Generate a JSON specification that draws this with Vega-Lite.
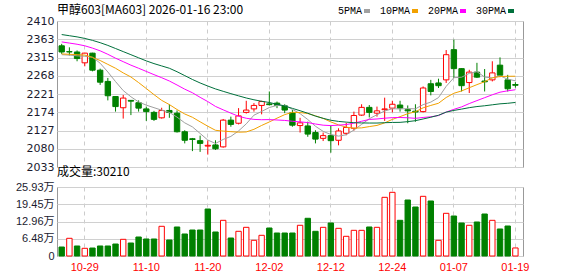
{
  "$schema": "https://vega.github.io/schema/vega-lite/v6.json",
  "autosize": {"type": "pad"},
  "padding": {"left": 14, "top": 3, "right": 0, "bottom": 0},
  "background": "white",
  "bounds": "flush",
  "spacing": 20,
  "config": {
    "view": {"stroke": "#999999", "strokeWidth": 1},
    "axis": {"grid": true, "gridColor": "#d0d0d0", "ticks": false, "domain": false, "labelFont": "DejaVu Sans", "labelFontSize": 11, "labelColor": "#1b1b2f", "title": null, "labelPadding": 3, "labelOverlap": false, "labelBound": false}
  },
  "data": {"values": [
    {"d":"10-24","o":2346,"h":2351,"l":2325,"c":2330,"v":33800,"chg":"down","5PMA":2323,"10PMA":2325,"20PMA":2356,"30PMA":2375},
    {"d":"10-27","o":2331,"h":2342,"l":2321,"c":2330,"v":66500,"chg":"up","5PMA":2322,"10PMA":2324,"20PMA":2353,"30PMA":2372},
    {"d":"10-28","o":2330,"h":2334,"l":2306,"c":2313,"v":37600,"chg":"down","5PMA":2320,"10PMA":2323,"20PMA":2350,"30PMA":2369},
    {"d":"10-29","o":2302,"h":2328,"l":2293,"c":2327,"v":28900,"chg":"up","5PMA":2319,"10PMA":2322,"20PMA":2346,"30PMA":2365},
    {"d":"10-30","o":2327,"h":2328,"l":2280,"c":2283,"v":30000,"chg":"down","5PMA":2316.6,"10PMA":2316,"20PMA":2340,"30PMA":2360},
    {"d":"10-31","o":2283,"h":2287,"l":2245,"c":2252,"v":37600,"chg":"down","5PMA":2301,"10PMA":2308,"20PMA":2333,"30PMA":2354},
    {"d":"11-03","o":2254,"h":2263,"l":2205,"c":2217,"v":37600,"chg":"down","5PMA":2278.4,"10PMA":2298,"20PMA":2324,"30PMA":2347},
    {"d":"11-04","o":2215,"h":2216,"l":2176,"c":2189,"v":45000,"chg":"down","5PMA":2253.6,"10PMA":2288,"20PMA":2314,"30PMA":2339},
    {"d":"11-05","o":2186,"h":2219,"l":2158,"c":2211,"v":62700,"chg":"up","5PMA":2230.4,"10PMA":2276,"20PMA":2305,"30PMA":2331},
    {"d":"11-06","o":2205,"h":2206,"l":2167,"c":2203,"v":48800,"chg":"down","5PMA":2214.4,"10PMA":2265.5,"20PMA":2296,"30PMA":2323},
    {"d":"11-07","o":2199,"h":2205,"l":2176,"c":2185,"v":71400,"chg":"down","5PMA":2201,"10PMA":2251,"20PMA":2288,"30PMA":2315},
    {"d":"11-10","o":2183,"h":2189,"l":2152,"c":2176,"v":63900,"chg":"down","5PMA":2192.8,"10PMA":2235.6,"20PMA":2279.8,"30PMA":2307},
    {"d":"11-11","o":2174,"h":2178,"l":2152,"c":2156,"v":63900,"chg":"down","5PMA":2186.2,"10PMA":2219.9,"20PMA":2271.5,"30PMA":2300},
    {"d":"11-12","o":2160,"h":2186,"l":2158,"c":2179,"v":111600,"chg":"up","5PMA":2179.8,"10PMA":2205.1,"20PMA":2263.6,"30PMA":2294},
    {"d":"11-13","o":2179,"h":2195,"l":2160,"c":2174,"v":60100,"chg":"down","5PMA":2174,"10PMA":2194.2,"20PMA":2255.1,"30PMA":2288},
    {"d":"11-14","o":2172,"h":2179,"l":2122,"c":2124,"v":109000,"chg":"down","5PMA":2161.8,"10PMA":2181.4,"20PMA":2244.7,"30PMA":2279},
    {"d":"11-17","o":2124,"h":2128,"l":2094,"c":2102,"v":82700,"chg":"down","5PMA":2147,"10PMA":2169.9,"20PMA":2234,"30PMA":2269},
    {"d":"11-18","o":2106,"h":2108,"l":2074,"c":2104,"v":97700,"chg":"down","5PMA":2136.6,"10PMA":2161.4,"20PMA":2224.7,"30PMA":2259},
    {"d":"11-19","o":2101,"h":2114,"l":2072,"c":2094,"v":97700,"chg":"down","5PMA":2119.6,"10PMA":2149.7,"20PMA":2212.9,"30PMA":2250},
    {"d":"11-20","o":2087,"h":2102,"l":2065,"c":2089,"v":176600,"chg":"down","5PMA":2102.6,"10PMA":2138.3,"20PMA":2201.9,"30PMA":2242},
    {"d":"11-21","o":2090,"h":2102,"l":2077,"c":2080,"v":90200,"chg":"down","5PMA":2093.8,"10PMA":2127.8,"20PMA":2189.4,"30PMA":2234.6},
    {"d":"11-24","o":2085,"h":2157,"l":2083,"c":2154,"v":134100,"chg":"up","5PMA":2104.2,"10PMA":2125.6,"20PMA":2180.6,"30PMA":2228.4},
    {"d":"11-25","o":2154,"h":2163,"l":2137,"c":2143,"v":67600,"chg":"down","5PMA":2112,"10PMA":2124.3,"20PMA":2172.1,"30PMA":2222.4},
    {"d":"11-26","o":2146,"h":2185,"l":2143,"c":2165,"v":92800,"chg":"up","5PMA":2126.2,"10PMA":2122.9,"20PMA":2164,"30PMA":2216.7},
    {"d":"11-27","o":2174,"h":2204,"l":2171,"c":2180,"v":107800,"chg":"up","5PMA":2144.4,"10PMA":2123.5,"20PMA":2158.9,"30PMA":2211.2},
    {"d":"11-28","o":2183,"h":2198,"l":2176,"c":2192,"v":59000,"chg":"up","5PMA":2166.8,"10PMA":2130.3,"20PMA":2155.9,"30PMA":2206.6},
    {"d":"12-01","o":2192,"h":2204,"l":2169,"c":2202,"v":77800,"chg":"up","5PMA":2176.4,"10PMA":2140.3,"20PMA":2155.1,"30PMA":2202.7},
    {"d":"12-02","o":2196,"h":2228,"l":2192,"c":2194,"v":105200,"chg":"down","5PMA":2186.6,"10PMA":2149.3,"20PMA":2155.4,"30PMA":2199.6},
    {"d":"12-03","o":2198,"h":2202,"l":2185,"c":2192,"v":86400,"chg":"down","5PMA":2192,"10PMA":2159.1,"20PMA":2154.4,"30PMA":2194.9},
    {"d":"12-04","o":2191,"h":2195,"l":2172,"c":2180,"v":86400,"chg":"down","5PMA":2192,"10PMA":2168.2,"20PMA":2153.3,"30PMA":2190.7},
    {"d":"12-05","o":2173,"h":2180,"l":2137,"c":2141,"v":86400,"chg":"down","5PMA":2181.8,"10PMA":2174.3,"20PMA":2151.1,"30PMA":2184.4},
    {"d":"12-08","o":2140,"h":2160,"l":2122,"c":2147,"v":115400,"chg":"up","5PMA":2170.8,"10PMA":2173.6,"20PMA":2149.6,"30PMA":2178.3},
    {"d":"12-09","o":2139,"h":2150,"l":2111,"c":2118,"v":141700,"chg":"down","5PMA":2155.6,"10PMA":2171.1,"20PMA":2147.7,"30PMA":2171.8},
    {"d":"12-10","o":2122,"h":2128,"l":2094,"c":2105,"v":92800,"chg":"down","5PMA":2138.2,"10PMA":2165.1,"20PMA":2144,"30PMA":2164.4},
    {"d":"12-11","o":2107,"h":2122,"l":2100,"c":2114,"v":107800,"chg":"up","5PMA":2125,"10PMA":2158.5,"20PMA":2141,"30PMA":2158.7},
    {"d":"12-12","o":2114,"h":2140,"l":2070,"c":2101,"v":124000,"chg":"down","5PMA":2117,"10PMA":2149.4,"20PMA":2139.9,"30PMA":2153.7},
    {"d":"12-15","o":2102,"h":2133,"l":2089,"c":2126,"v":104000,"chg":"up","5PMA":2112.8,"10PMA":2141.8,"20PMA":2141.1,"30PMA":2150.7},
    {"d":"12-16","o":2120,"h":2147,"l":2115,"c":2135,"v":74000,"chg":"up","5PMA":2116.2,"10PMA":2135.9,"20PMA":2142.6,"30PMA":2148.9},
    {"d":"12-17","o":2133,"h":2176,"l":2127,"c":2166,"v":96500,"chg":"up","5PMA":2128.4,"10PMA":2133.3,"20PMA":2146.2,"30PMA":2147.4},
    {"d":"12-18","o":2167,"h":2195,"l":2165,"c":2187,"v":96500,"chg":"up","5PMA":2143,"10PMA":2134,"20PMA":2151.1,"30PMA":2146.8},
    {"d":"12-19","o":2187,"h":2193,"l":2161,"c":2174,"v":109000,"chg":"down","5PMA":2157.6,"10PMA":2137.3,"20PMA":2155.8,"30PMA":2146.5},
    {"d":"12-22","o":2172,"h":2189,"l":2163,"c":2178,"v":107800,"chg":"up","5PMA":2168,"10PMA":2140.4,"20PMA":2157,"30PMA":2146.5},
    {"d":"12-23","o":2181,"h":2212,"l":2152,"c":2183,"v":220500,"chg":"up","5PMA":2177.6,"10PMA":2146.9,"20PMA":2159,"30PMA":2147.4},
    {"d":"12-24","o":2185,"h":2204,"l":2174,"c":2195,"v":239300,"chg":"up","5PMA":2183.4,"10PMA":2155.9,"20PMA":2160.5,"30PMA":2148},
    {"d":"12-25","o":2193,"h":2204,"l":2176,"c":2185,"v":134100,"chg":"down","5PMA":2183,"10PMA":2163,"20PMA":2160.8,"30PMA":2148.3},
    {"d":"12-26","o":2181,"h":2192,"l":2146,"c":2178,"v":210400,"chg":"down","5PMA":2183.8,"10PMA":2170.7,"20PMA":2160.1,"30PMA":2150.1},
    {"d":"12-29","o":2177,"h":2195,"l":2150,"c":2175,"v":184100,"chg":"down","5PMA":2183.2,"10PMA":2175.6,"20PMA":2158.7,"30PMA":2152.6},
    {"d":"12-30","o":2176,"h":2241,"l":2174,"c":2237,"v":224300,"chg":"up","5PMA":2194,"10PMA":2185.8,"20PMA":2160.9,"30PMA":2157},
    {"d":"12-31","o":2248,"h":2258,"l":2218,"c":2228,"v":206700,"chg":"down","5PMA":2200.6,"10PMA":2192,"20PMA":2162.7,"30PMA":2161.5},
    {"d":"01-05","o":2250,"h":2261,"l":2237,"c":2243,"v":59000,"chg":"up","5PMA":2212.2,"10PMA":2197.6,"20PMA":2165.8,"30PMA":2166.6},
    {"d":"01-06","o":2258,"h":2335,"l":2250,"c":2323,"v":160400,"chg":"up","5PMA":2241.2,"10PMA":2212.5,"20PMA":2174.9,"30PMA":2174.7},
    {"d":"01-07","o":2336,"h":2362,"l":2263,"c":2287,"v":150300,"chg":"down","5PMA":2263.6,"10PMA":2223.4,"20PMA":2181.9,"30PMA":2179.1},
    {"d":"01-08","o":2287,"h":2288,"l":2228,"c":2243,"v":124000,"chg":"down","5PMA":2264.8,"10PMA":2229.4,"20PMA":2188.2,"30PMA":2182.5},
    {"d":"01-09","o":2251,"h":2284,"l":2224,"c":2278,"v":115400,"chg":"up","5PMA":2274.8,"10PMA":2237.7,"20PMA":2196.8,"30PMA":2186.2},
    {"d":"01-12","o":2278,"h":2302,"l":2263,"c":2265,"v":127800,"chg":"down","5PMA":2279.2,"10PMA":2245.7,"20PMA":2204.4,"30PMA":2189.1},
    {"d":"01-13","o":2255,"h":2286,"l":2228,"c":2253,"v":157800,"chg":"down","5PMA":2265.2,"10PMA":2253.2,"20PMA":2212,"30PMA":2191.1},
    {"d":"01-14","o":2258,"h":2306,"l":2254,"c":2276,"v":134100,"chg":"up","5PMA":2263,"10PMA":2263.3,"20PMA":2219.5,"30PMA":2193.6},
    {"d":"01-15","o":2296,"h":2316,"l":2265,"c":2270,"v":101500,"chg":"down","5PMA":2268.4,"10PMA":2266.6,"20PMA":2226.2,"30PMA":2196.1},
    {"d":"01-16","o":2258,"h":2271,"l":2228,"c":2235,"v":112700,"chg":"down","5PMA":2259.8,"10PMA":2267.3,"20PMA":2229.7,"30PMA":2197.5},
    {"d":"01-19","o":2246,"h":2252,"l":2238,"c":2244,"v":30210,"chg":"up","5PMA":2255.6,"10PMA":2267.4,"20PMA":2232.5,"30PMA":2199.7}
  ]},
  "vconcat": [
    {
      "width": 466,
      "height": 146,
      "title": {"text": "甲醇603[MA603] 2026-01-16 23:00", "anchor": "start", "frame": "group", "font": "Noto Sans CJK SC", "fontSize": 12, "fontWeight": "normal", "color": "#000000", "offset": -2},
      "encoding": {
        "x": {"field": "d", "type": "ordinal", "sort": null,
          "scale": {"paddingInner": 0.3, "paddingOuter": 0.45, "align": 0.29},
          "axis": {"values": ["10-29","11-10","11-20","12-02","12-12","12-24","01-07","01-19"], "labels": false, "gridDash": [4,4], "gridColor": "#cccccc", "bandPosition": 0.5}}
      },
      "layer": [
        {
          "mark": {"type": "rule", "strokeWidth": 1},
          "encoding": {
            "y": {"field": "l", "type": "quantitative", "scale": {"domain": [2033, 2410], "zero": false, "nice": false},
              "axis": {"values": [2033,2080,2127,2174,2221,2268,2315,2363,2410], "format": "d", "labelOverlap": false}},
            "y2": {"field": "h"},
            "stroke": {"condition": {"test": "datum.c >= datum.o", "value": "#ff0000"}, "value": "#008000"}
          }
        },
        {
          "mark": {"type": "bar", "strokeWidth": 1},
          "encoding": {
            "y": {"field": "o", "type": "quantitative",
              "axis": {"values": [2033,2080,2127,2174,2221,2268,2315,2363,2410], "format": "d", "labelOverlap": false}},
            "y2": {"field": "c"},
            "fill": {"condition": {"test": "datum.c >= datum.o", "value": "#ffffff"}, "value": "#008000"},
            "stroke": {"condition": {"test": "datum.c >= datum.o", "value": "#ff0000"}, "value": "#008000"}
          }
        },
        {
          "transform": [{"fold": ["5PMA","10PMA","20PMA","30PMA"], "as": ["k","val"]}],
          "mark": {"type": "line", "strokeWidth": 1},
          "encoding": {
            "y": {"field": "val", "type": "quantitative",
              "axis": {"values": [2033,2080,2127,2174,2221,2268,2315,2363,2410], "format": "d", "labelOverlap": false}},
            "color": {"field": "k", "type": "nominal",
              "scale": {"domain": ["5PMA","10PMA","20PMA","30PMA"], "range": ["#a0a0a0","#f2a100","#ff00ff","#00703c"]},
              "legend": {"orient": "none", "legendX": 305, "legendY": -15, "direction": "horizontal", "title": null,
                "symbolType": "stroke", "symbolSize": 36, "symbolStrokeWidth": 4,
                "labelFont": "Liberation Mono", "labelFontSize": 10, "labelColor": "#000000",
                "labelAlign": "right", "labelOffset": -10, "columnPadding": 1}}
          }
        }
      ]
    },
    {
      "width": 466,
      "height": 69,
      "title": {"text": "成交量:30210", "anchor": "start", "frame": "group", "font": "Noto Sans CJK SC", "fontSize": 12, "fontWeight": "normal", "color": "#000000", "offset": 2},
      "mark": {"type": "bar", "strokeWidth": 1},
      "encoding": {
        "x": {"field": "d", "type": "ordinal", "sort": null,
          "scale": {"paddingInner": 0.3, "paddingOuter": 0.45, "align": 0.29},
          "axis": {"values": ["10-29","11-10","11-20","12-02","12-12","12-24","01-07","01-19"], "labelColor": "#ff0000", "labelFont": "Liberation Sans", "labelFontSize": 11, "labelPadding": 5, "labelAngle": 0, "gridDash": [4,4], "gridColor": "#cccccc", "bandPosition": 0.5}},
        "y": {"field": "v", "type": "quantitative", "scale": {"domain": [0, 259300], "nice": false},
          "axis": {"values": [0, 64800, 129600, 194500, 259300], "labelFont": "Liberation Sans, Noto Sans CJK SC", "labelExpr": "datum.value == 0 ? '0' : format(datum.value / 10000, '.2f') + '万'"}},
        "fill": {"condition": {"test": "datum.chg == 'up'", "value": "#ffffff"}, "value": "#008000"},
        "stroke": {"condition": {"test": "datum.chg == 'up'", "value": "#ff0000"}, "value": "#008000"}
      }
    }
  ]
}
